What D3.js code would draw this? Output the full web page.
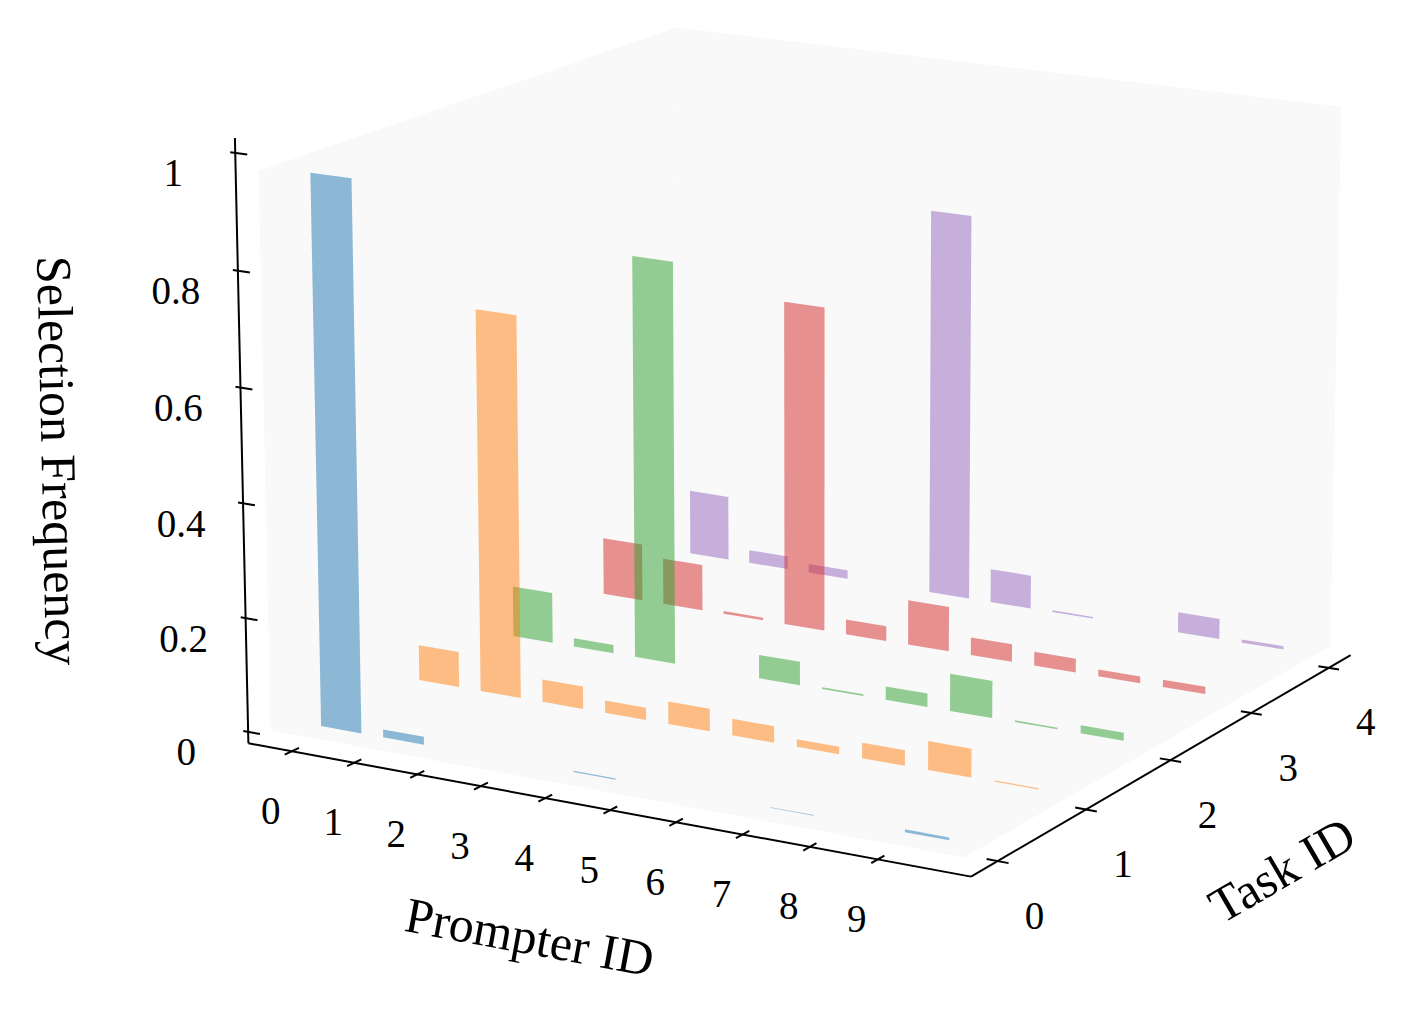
<!DOCTYPE html>
<html>
<head>
<meta charset="utf-8">
<script src="https://cdn.jsdelivr.net/npm/d3@7"></script>
<style>
  body { margin: 0; background: #fff; }
  svg { display: block; }
</style>
</head>
<body>
<div id="chart"></div>
<script>
// --- data ---
const prompters = [0, 1, 2, 3, 4, 5, 6, 7, 8, 9];
const tasks = [0, 1, 2, 3, 4];
const task0 = [0.959, 0.014, 0, 0, 0.002, 0, 0, 0.001, 0, 0.005];
const task1 = [0.063, 0.676, 0.040, 0.022, 0.040, 0.029, 0.013, 0.027, 0.050, 0.002];
const task2 = [0.091, 0.015, 0.720, 0, 0.042, 0.003, 0.024, 0.066, 0.003, 0.014];
const task3 = [0.104, 0.084, 0.005, 0.589, 0.027, 0.081, 0.032, 0.025, 0.012, 0.013];
const task4 = [0.119, 0.024, 0.016, 0, 0.706, 0.061, 0.003, 0, 0.037, 0.006];
const taskValues = [task0, task1, task2, task3, task4];
const taskColors = ['#1f77b4', '#ff7f0e', '#2ca02c', '#d62728', '#9467bd'];
const zTicks = [0, 0.2, 0.4, 0.6, 0.8, 1];
const zTickLabels = ['0', '0.2', '0.4', '0.6', '0.8', '1'];

// --- view / layout ---
const W = 1428, H = 1035;
const VIEW = { elev: 15, azim: -60, dist: 10, scale: 6850, cx: 811, cy: 415.7 };
const BOX = [1.143, 1.143, 0.829];          // world box aspect
const BAR_W = 0.65;
const LIM = { x: [-0.4825, 10.1325], y: [-0.2, 4.2], z: [0, 0.967] };
const PAD = 1 / 48;                          // axis lines sit a little outside the panes
const AX = {
  x: [LIM.x[0] - (LIM.x[1] - LIM.x[0]) * PAD, LIM.x[1] + (LIM.x[1] - LIM.x[0]) * PAD],
  y: [LIM.y[0] - (LIM.y[1] - LIM.y[0]) * PAD, LIM.y[1] + (LIM.y[1] - LIM.y[0]) * PAD],
  z: [LIM.z[0] - (LIM.z[1] - LIM.z[0]) * PAD, 1.025],
};
const FONT = '"Liberation Serif", "Times New Roman", Times, serif';
const PANE = '#f9f9f9';

const svg = d3.select('#chart').append('svg')
  .attr('width', W).attr('height', H)
  .attr('viewBox', `0 0 ${W} ${H}`);

// scales into the world box
const sx = d3.scaleLinear().domain(LIM.x).range([-BOX[0] / 2, BOX[0] / 2]);
const sy = d3.scaleLinear().domain(LIM.y).range([-BOX[1] / 2, BOX[1] / 2]);
const sz = d3.scaleLinear().domain(LIM.z).range([-BOX[2] / 2, BOX[2] / 2]);

// camera axes (matplotlib style: azim / elev, perspective)
const rad = Math.PI / 180;
const el = VIEW.elev * rad, az = VIEW.azim * rad;
const wv = [Math.cos(el) * Math.cos(az), Math.cos(el) * Math.sin(az), Math.sin(el)];
const uv = [-Math.sin(az), Math.cos(az), 0];
const vv = [-Math.sin(el) * Math.cos(az), -Math.sin(el) * Math.sin(az), Math.cos(el)];

function project(x, y, z) {
  const p = [sx(x), sy(y), sz(z)];
  const dot = q => p[0] * q[0] + p[1] * q[1] + p[2] * q[2];
  const depth = dot(wv);
  const d = VIEW.dist - depth;
  return [VIEW.cx + VIEW.scale * dot(uv) / d, VIEW.cy - VIEW.scale * dot(vv) / d, depth];
}
const pts = corners => corners.map(c => project(...c).slice(0, 2).join(',')).join(' ');

// panes
const [x0, x1] = LIM.x, [y0, y1] = LIM.y, [z0, z1] = LIM.z;
const panes = [
  [[x0, y0, z0], [x1, y0, z0], [x1, y1, z0], [x0, y1, z0]],
  [[x0, y0, z0], [x0, y1, z0], [x0, y1, z1], [x0, y0, z1]],
  [[x0, y1, z0], [x1, y1, z0], [x1, y1, z1], [x0, y1, z1]],
];
svg.append('g').selectAll('polygon').data(panes).join('polygon')
  .attr('points', pts)
  .attr('fill', PANE).attr('stroke', PANE).attr('stroke-width', 1);

// axis lines
const axisG = svg.append('g').attr('stroke', '#000').attr('stroke-width', 2).attr('fill', 'none');
const seg = (a, b) => {
  const p = project(...a), q = project(...b);
  axisG.append('line').attr('x1', p[0]).attr('y1', p[1]).attr('x2', q[0]).attr('y2', q[1]);
};
seg([AX.x[0], AX.y[0], AX.z[0]], [AX.x[1], AX.y[0], AX.z[0]]);   // Prompter ID
seg([AX.x[1], AX.y[0], AX.z[0]], [AX.x[1], AX.y[1], AX.z[0]]);   // Task ID
seg([AX.x[0], AX.y[0], AX.z[0]], [AX.x[0], AX.y[0], AX.z[1]]);   // Selection Frequency

// ticks (drawn along the neighbouring axis direction)
const dyT = (LIM.y[1] - LIM.y[0]) * 0.016;
const dxT = (LIM.x[1] - LIM.x[0]) * 0.015;
prompters.forEach(p => seg([p, AX.y[0] - dyT, AX.z[0]], [p, AX.y[0] + dyT, AX.z[0]]));
tasks.forEach(t => seg([AX.x[1] - dxT, t, AX.z[0]], [AX.x[1] + dxT, t, AX.z[0]]));
zTicks.forEach(z => seg([AX.x[0] - dxT * 0.5, AX.y[0], z], [AX.x[0] + dxT * 1.2, AX.y[0], z]));

// tick labels
const labelG = svg.append('g').attr('font-family', FONT).attr('font-size', 39)
  .attr('fill', '#000').attr('text-anchor', 'middle').attr('dominant-baseline', 'central');
prompters.forEach(p => {
  const [px, py] = project(p, AX.y[0], AX.z[0]);
  labelG.append('text').attr('x', px - 21).attr('y', py + 59).text(p);
});
tasks.forEach(t => {
  const [px, py] = project(AX.x[1], t, AX.z[0]);
  labelG.append('text').attr('x', px + 37).attr('y', py + 54).text(t);
});
zTicks.forEach((z, i) => {
  const [px, py] = project(AX.x[0], AX.y[0], z);
  labelG.append('text').attr('x', px - 62).attr('y', py + 20).text(zTickLabels[i]);
});

// axis titles, rotated to follow the projected axis
function axisTitle(a, b, dx, dy, text, flip) {
  const p = project(...a), q = project(...b);
  let ang = Math.atan2(q[1] - p[1], q[0] - p[0]) / rad;
  if (flip) ang += 180;
  const mx = (p[0] + q[0]) / 2 + dx, my = (p[1] + q[1]) / 2 + dy;
  svg.append('text')
    .attr('transform', `translate(${mx},${my}) rotate(${ang})`)
    .attr('font-family', FONT).attr('font-size', 50)
    .attr('text-anchor', 'middle').attr('dominant-baseline', 'central')
    .text(text);
}
axisTitle([AX.x[0], AX.y[0], AX.z[0]], [AX.x[1], AX.y[0], AX.z[0]], -80, 127, 'Prompter ID');
axisTitle([AX.x[1], AX.y[0], AX.z[0]], [AX.x[1], AX.y[1], AX.z[0]], 121, 104, 'Task ID');
axisTitle([AX.x[0], AX.y[0], AX.z[0]], [AX.x[0], AX.y[0], AX.z[1]], -183, 20, 'Selection Frequency', true);

// bars: flat rectangles standing in the plane y = task, painted far to near
const bars = [];
tasks.forEach((t, ti) => {
  prompters.forEach((p, pi) => {
    const h = taskValues[ti][pi];
    const corners = [[p, t, 0], [p + BAR_W, t, 0], [p + BAR_W, t, h], [p, t, h]];
    const depth = d3.mean(corners, c => project(...c)[2]);
    bars.push({ task: t, prompter: p, value: h, corners, depth, color: taskColors[ti] });
  });
});
bars.sort((a, b) => a.depth - b.depth);

svg.append('g').selectAll('polygon').data(bars.filter(d => d.value > 0)).join('polygon')
  .attr('points', d => pts(d.corners))
  .attr('fill', d => d.color)
  .attr('fill-opacity', 0.5);
</script>
</body>
</html>
